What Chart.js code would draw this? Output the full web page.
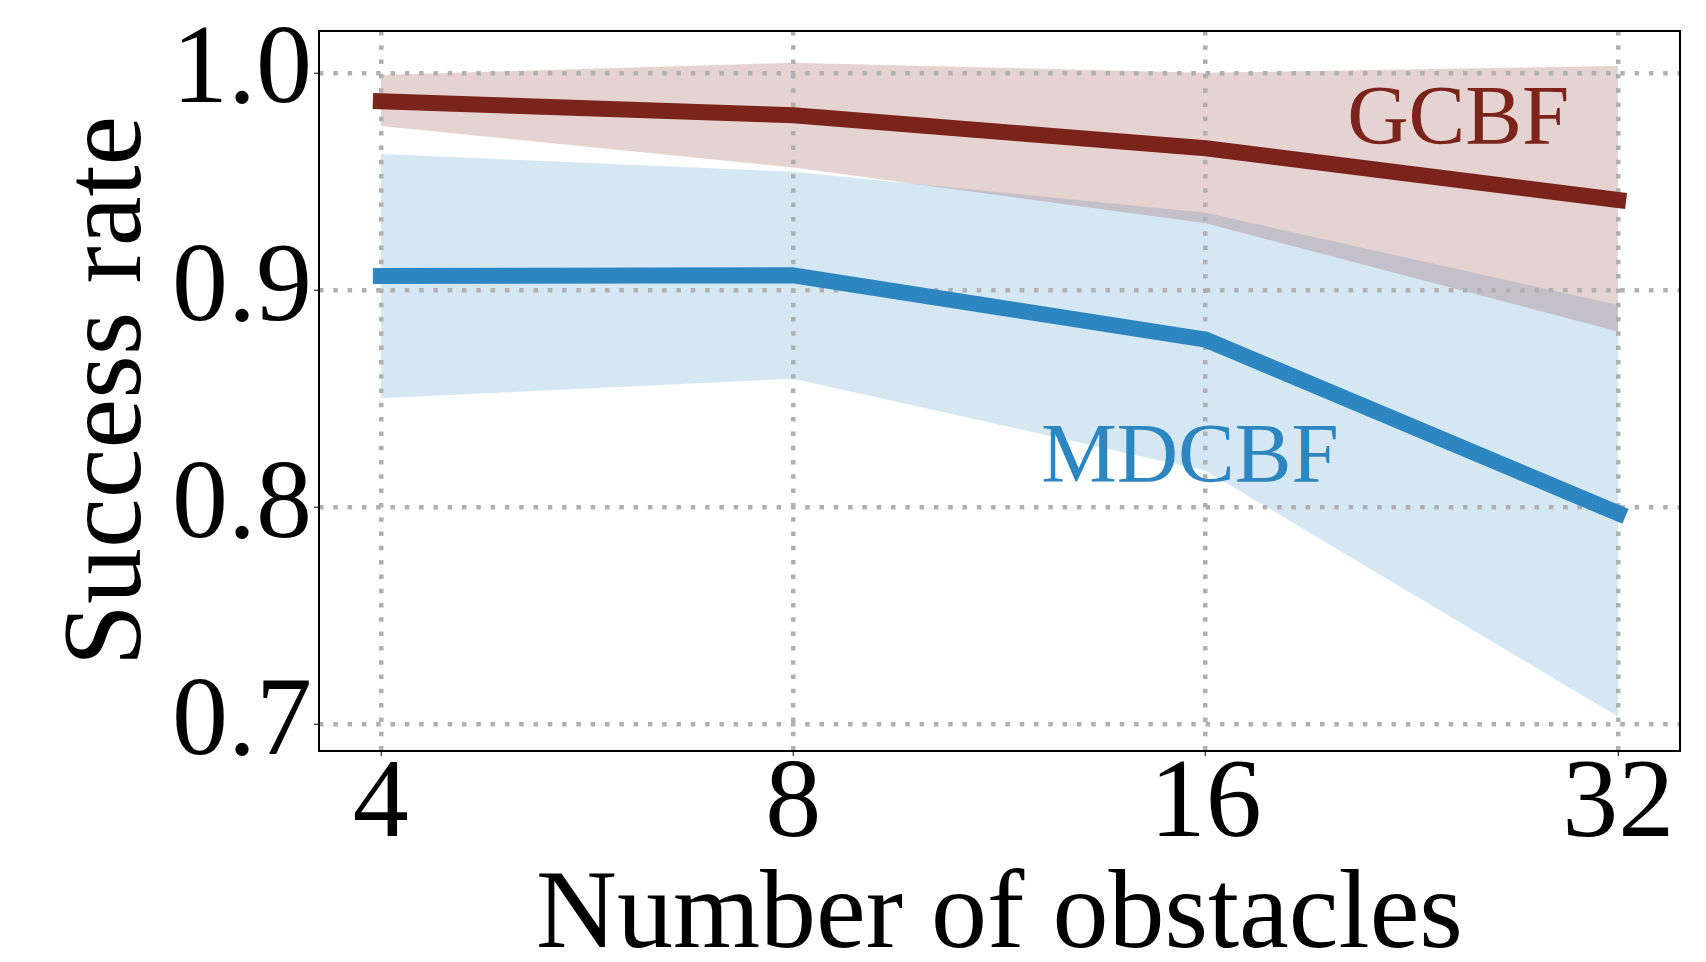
<!DOCTYPE html>
<html>
<head>
<meta charset="utf-8">
<script src="https://cdn.jsdelivr.net/npm/chart.js@4.4.1/dist/chart.umd.min.js"></script>
<style>
  html, body { margin: 0; padding: 0; background: #fff; }
  #wrap { width: 1706px; height: 962px; }
</style>
</head>
<body>
<div id="wrap"><canvas id="chart" width="1706" height="962"></canvas></div>
<script>
// ---- data ----
const xLabels = ["4", "8", "16", "32"];

const gcbfMean  = [0.987, 0.9805, 0.9653, 0.9415];
const gcbfUpper = [0.999, 1.0047, 1.0001, 1.0032];
const gcbfLower = [0.9756, 0.9564, 0.9308, 0.8809];

const mdcbfMean  = [0.9065, 0.9068, 0.8772, 0.7972];
const mdcbfUpper = [0.9627, 0.9545, 0.9356, 0.8931];
const mdcbfLower = [0.8502, 0.8592, 0.8168, 0.7036];

const yTicks = [0.7, 0.8, 0.9, 1.0];

// text labels placed in data coords (x = index of category)
const gcbfLabel  = { text: "GCBF",  x: 2.343, y: 0.9673 };
const mdcbfLabel = { text: "MDCBF", x: 1.601, y: 0.8117 };

const RED = "#7B241C";
const BLUE = "#2E86C1";
const FONT = "'Liberation Serif', 'DejaVu Serif', serif";

const pts = (arr) => arr.map((v, i) => ({ x: i, y: v }));

function band(data, color, fill) {
  return {
    data: pts(data),
    borderWidth: 0,
    pointRadius: 0,
    fill: fill,
    backgroundColor: color,
  };
}

function line(data, color) {
  return {
    data: pts(data),
    borderColor: color,
    borderWidth: 16,
    borderCapStyle: "square",
    borderJoinStyle: "round",
    pointRadius: 0,
    fill: false,
    tension: 0,
  };
}

// ---- plugins ----
const framePlugin = {
  id: "frame",
  afterDatasetsDraw(chart) {
    const { ctx, chartArea: a } = chart;
    ctx.save();
    ctx.strokeStyle = "#000";
    ctx.lineWidth = 2;
    ctx.strokeRect(a.left, a.top, a.right - a.left, a.bottom - a.top);
    ctx.restore();
  },
};

const labelPlugin = {
  id: "seriesLabels",
  afterDatasetsDraw(chart) {
    const { ctx, scales } = chart;
    ctx.save();
    ctx.font = "85px " + FONT;
    ctx.textAlign = "left";
    ctx.textBaseline = "alphabetic";
    [[gcbfLabel, RED], [mdcbfLabel, BLUE]].forEach(([l, c]) => {
      ctx.fillStyle = c;
      ctx.fillText(l.text, scales.x.getPixelForValue(l.x), scales.y.getPixelForValue(l.y));
    });
    ctx.restore();
  },
};

// ---- chart ----
const gridOpts = {
  color: "#b0b0b0",
  lineWidth: 4.5,
  drawTicks: true,
  tickLength: 5,
  tickColor: "#000",
  tickWidth: 1,
  tickBorderDash: [],
};
const borderOpts = { display: false, dash: [4.5, 9.8] };

function noPad(s) {
  s.paddingTop = 0;
  s.paddingBottom = 0;
  s.paddingLeft = 0;
  s.paddingRight = 0;
}

new Chart(document.getElementById("chart").getContext("2d"), {
  type: "line",
  data: {
    datasets: [
      line(mdcbfMean, BLUE),
      line(gcbfMean, RED),
      band(gcbfUpper, "rgba(123,36,28,0.2)", false),
      band(gcbfLower, "rgba(123,36,28,0.2)", "-1"),
      band(mdcbfUpper, "rgba(46,134,193,0.2)", false),
      band(mdcbfLower, "rgba(46,134,193,0.2)", "-1"),
    ],
  },
  options: {
    responsive: false,
    animation: false,
    events: [],
    layout: { padding: { top: 31, right: 26, left: 0, bottom: 0 } },
    plugins: {
      legend: { display: false },
      tooltip: { enabled: false },
      filler: { drawTime: "beforeDraw" },
    },
    scales: {
      x: {
        type: "linear",
        min: -0.15,
        max: 3.15,
        afterFit(s) { s.height = 211; noPad(s); },
        afterBuildTicks(s) { s.ticks = xLabels.map((_, i) => ({ value: i })); },
        grid: gridOpts,
        border: borderOpts,
        ticks: {
          color: "#000",
          padding: -5,
          font: { family: FONT, size: 112, lineHeight: 1 },
          callback: (v) => xLabels[v],
          maxRotation: 0,
        },
        title: {
          display: true,
          text: "Number of obstacles",
          color: "#000",
          font: { family: FONT, size: 112, lineHeight: 1 },
          padding: { top: 0, bottom: -12 },
        },
      },
      y: {
        min: 0.6878,
        max: 1.0193,
        afterFit(s) { s.width = 319; noPad(s); },
        afterBuildTicks(s) { s.ticks = yTicks.map((v) => ({ value: v })); },
        grid: gridOpts,
        border: borderOpts,
        ticks: {
          color: "#000",
          padding: 2,
          font: { family: FONT, size: 112, lineHeight: 1 },
          callback: (v) => v.toFixed(1),
        },
        title: {
          display: true,
          text: "Success rate",
          color: "#000",
          font: { family: FONT, size: 112, lineHeight: 1 },
          padding: { top: 55, bottom: 0 },
        },
      },
    },
  },
  plugins: [framePlugin, labelPlugin],
});
</script>
</body>
</html>
